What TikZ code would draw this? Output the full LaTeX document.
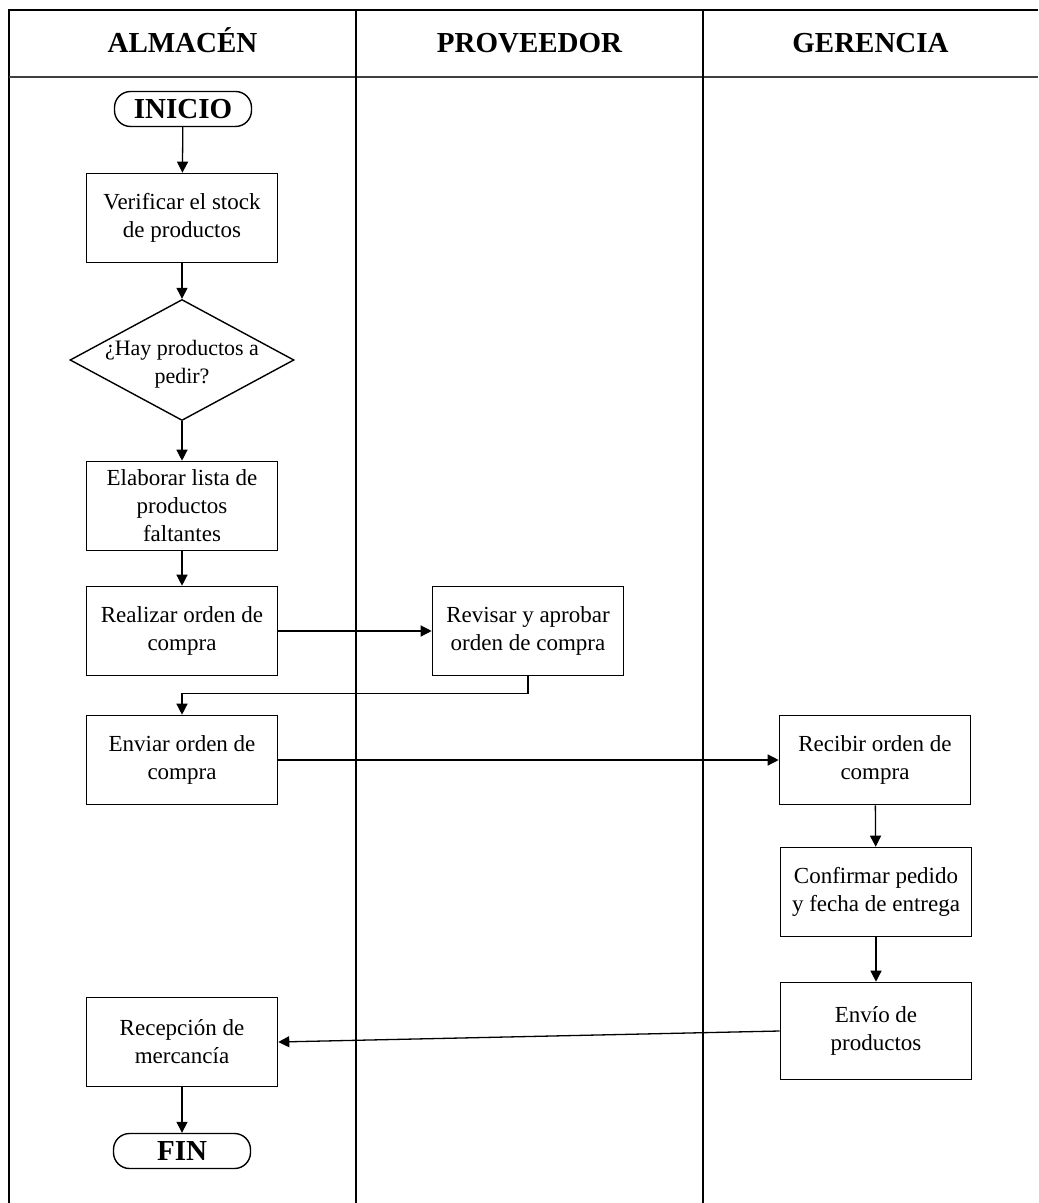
\documentclass[tikz,border=0pt]{standalone}
\usepackage{fontspec}
\setmainfont{Liberation Serif}
\usetikzlibrary{shapes.geometric,arrows.meta}
\begin{document}
\begin{tikzpicture}[x=0.5pt,y=-0.5pt,
  lane/.style={line width=1.2pt},
  head/.style={anchor=base,inner sep=0pt,font=\fontsize{14.5}{17}\selectfont\bfseries},
  proc/.style={draw,line width=0.8pt,minimum width=95.5pt,minimum height=44.5pt,
    inner sep=0pt,align=center,font=\fontsize{11.5}{14}\selectfont},
  term/.style={draw,line width=0.7pt,rounded corners=8pt,minimum width=68.5pt,
    minimum height=17.5pt,inner sep=0pt,font=\fontsize{14.5}{17}\selectfont\bfseries},
  dec/.style={draw,diamond,line width=0.7pt,minimum width=112pt,minimum height=60.5pt,
    inner sep=0pt},
  dectext/.style={align=center,font=\fontsize{11}{14}\selectfont,inner sep=0pt},
  arr/.style={line width=0.65pt,-{Triangle[length=5.5pt,width=5.5pt]}}]
\useasboundingbox (0,0) rectangle (1038,1203);
\fill[white] (0,0) rectangle (1038,1203);

% swimlane frame
\draw[lane] (1038,10) -- (9,10) -- (9,1203);
\draw[line width=0.9pt,black!75] (9,77) -- (1038,77);
\draw[lane] (356,10) -- (356,1203);
\draw[lane] (703,10) -- (703,1203);

% lane headers
\node[head] (h1) at (182.5,53) {ALMACÉN};
\node[head] (h2) at (529.5,53) {PROVEEDOR};
\node[head] (h3) at (870.5,53) {GERENCIA};

% flow nodes
\node[term] (ini) at (183,109) {INICIO};
\node[proc] (ver) at (182,218) {Verificar el stock\\de productos};
\node[dec] (dd) at (182,360) {};
\node[dectext] (ddt) at (182,364) {¿Hay productos a\\pedir?};
\node[proc] (ela) at (182,506) {Elaborar lista de\\productos\\faltantes};
\node[proc] (rea) at (182,631) {Realizar orden de\\compra};
\node[proc] (rev) at (528,631) {Revisar y aprobar\\orden de compra};
\node[proc] (env) at (182,760) {Enviar orden de\\compra};
\node[proc] (rec) at (875,760) {Recibir orden de\\compra};
\node[proc] (con) at (876,892) {Confirmar pedido\\y fecha de entrega};
\node[proc,minimum height=48.5pt] (evp) at (876,1031) {Envío de\\productos};
\node[proc] (rcp) at (182,1042) {Recepción de\\mercancía};
\node[term] (fin) at (182,1151) {FIN};

% connectors
\draw[arr] (ini) -- (ver);
\draw[arr] (ver) -- (dd);
\draw[arr] (dd) -- (ela);
\draw[arr] (ela) -- (rea);
\draw[arr] (rea) -- (rev);
\draw[arr] (rev.south) -- ++(0,17) -| (env.north);
\draw[arr] (env) -- (rec);
\draw[arr] (rec) -- (con);
\draw[arr] (con) -- (evp);
\draw[arr] (evp.west) -- (rcp.east);
\draw[arr] (rcp) -- (fin);
\end{tikzpicture}
\end{document}
